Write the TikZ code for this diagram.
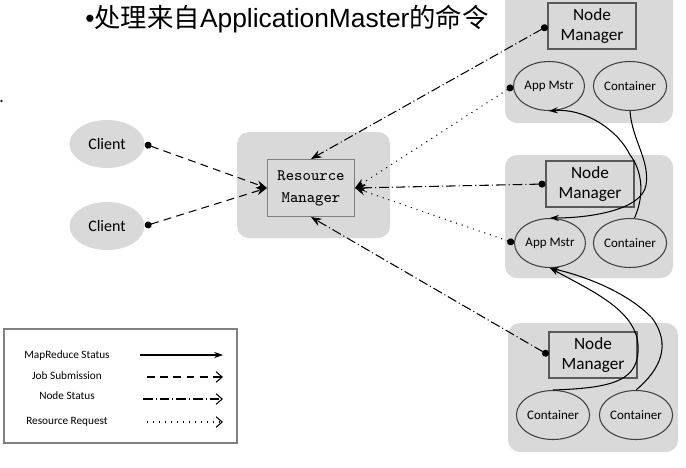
\documentclass[tikz,border=0pt]{standalone}
\usepackage{fontspec}
\setmainfont{Carlito}
\newfontfamily\titlefont{Liberation Sans}
\newfontfamily\cjk{Noto Sans CJK SC}
\usetikzlibrary{arrows.meta,shapes.geometric}
\definecolor{panel}{HTML}{D9D9D9}
\begin{document}
\begin{tikzpicture}[x=0.02cm,y=-0.02cm,
  panelbg/.style={fill=panel,rounded corners=0.24cm},
  nmbox/.style={draw=black!65,fill=panel,line width=0.6pt,minimum width=1.76cm,minimum height=0.92cm,inner sep=0pt,align=center,font=\fontsize{9.8}{11.4}\selectfont},
  oval/.style={ellipse,draw=black!75,fill=panel,line width=0.6pt,minimum width=1.42cm,minimum height=0.98cm,inner sep=0pt,font=\fontsize{7.4}{9}\selectfont},
  client/.style={ellipse,fill=panel,minimum width=1.5cm,minimum height=0.96cm,inner sep=0pt,font=\fontsize{9.1}{11}\selectfont},
  rmbox/.style={draw=black!50,fill=panel,line width=0.6pt,minimum width=1.74cm,minimum height=1.14cm,inner sep=0pt,align=center,font=\ttfamily\fontsize{9.1}{12.5}\selectfont},
  legtext/.style={font=\fontsize{6.4}{8}\selectfont,inner sep=0pt},
  conn/.style={line width=0.6pt,black},
  jobdash/.style={dash pattern=on 4.5pt off 3pt},
  nodedash/.style={dash pattern=on 5.5pt off 1.7pt on 0.6pt off 1.7pt},
  reqdot/.style={dash pattern=on 0.6pt off 2.8pt},
  srcdot/.style={{Circle[length=4pt]}-{Stealth[length=6pt,width=4.5pt]}},
  mrtip/.style={-{Stealth[length=5pt,width=3.5pt]}},
  opentip/.style={-{Straight Barb[length=3.5pt,width=6pt]}}
]
\useasboundingbox (0,0) rectangle (686,467);

% panels
\fill[panelbg] (505,-20) rectangle (673,123);
\fill[panelbg] (505,155) rectangle (673,278);
\fill[panelbg] (508,323) rectangle (678,452);
\fill[panelbg] (237,132) rectangle (390,238);

% title and stray dot
\node (title) at (287,19) {\titlefont\fontsize{15}{18}\selectfont •{\cjk 处理来自}ApplicationMaster{\cjk 的命令}};
\fill[black!85] (1.5,101) circle (0.8pt);

% nodes
\node[client] (cl1) at (107,144) {Client};
\node[client] (cl2) at (107,226) {Client};
\node[rmbox] (rm) at (311,188) {Resource\\Manager};

\node[nmbox] (nm1) at (592,26) {Node\\Manager};
\node[oval] (am1) at (549,86) {App Mstr};
\node[oval] (c1) at (630,86) {Container};

\node[nmbox] (nm2) at (590,184) {Node\\Manager};
\node[oval] (am2) at (550,243) {App Mstr};
\node[oval] (c2) at (630,243) {Container};

\node[nmbox] (nm3) at (593,355) {Node\\Manager};
\node[oval] (c3a) at (553,415) {Container};
\node[oval] (c3b) at (636,415) {Container};

% job submission
\draw[conn,jobdash,srcdot] (cl1.east) -- (rm.west);
\draw[conn,jobdash,srcdot] (cl2.east) -- (rm.west);

% node status
\draw[conn,nodedash,srcdot] (nm1.west) -- (rm.north);
\draw[conn,nodedash,srcdot] (nm2.west) -- (rm.east);
\draw[conn,nodedash,srcdot] (nm3.west) -- (rm.south);

% resource request
\draw[conn,reqdot,srcdot] (am1.west) -- (rm.east);
\draw[conn,reqdot,srcdot] (am2.west) -- (rm.east);

% mapreduce status
\draw[conn,mrtip] (c2.80) .. controls (645,195) and (642,170) .. (630,155)
   .. controls (618,130) and (585,108) .. (am1.south);
\draw[conn,mrtip] (c1.south) .. controls (632,140) and (650,160) .. (646,185)
   .. controls (642,210) and (590,218) .. (am2.north);
\draw[conn,mrtip] (c3a.north) .. controls (615,388) and (640,380) .. (638,345)
   .. controls (636,310) and (590,290) .. (am2.south);
\draw[conn,mrtip] (c3b.north) .. controls (660,370) and (672,345) .. (652,318)
   .. controls (625,290) and (580,275) .. (am2.south);

% legend
\draw[black!50,line width=0.6pt] (4,329) rectangle (237,443);
\node[legtext] (lg1) at (67,355) {MapReduce Status};
\node[legtext] (lg2) at (67,376) {Job Submission};
\node[legtext] (lg3) at (67,396) {Node Status};
\node[legtext] (lg4) at (67,422) {Resource Request};
\coordinate (l1a) at (140,355); \coordinate (l1b) at (223,355);
\coordinate (l2a) at (147,377); \coordinate (l2b) at (223,377);
\coordinate (l3a) at (143,399); \coordinate (l3b) at (223,399);
\coordinate (l4a) at (147,422); \coordinate (l4b) at (223,422);
\draw[conn,mrtip] (l1a) -- (l1b);
\draw[conn,jobdash,opentip] (l2a) -- (l2b);
\draw[conn,nodedash,opentip] (l3a) -- (l3b);
\draw[conn,reqdot,opentip] (l4a) -- (l4b);
\end{tikzpicture}
\end{document}
